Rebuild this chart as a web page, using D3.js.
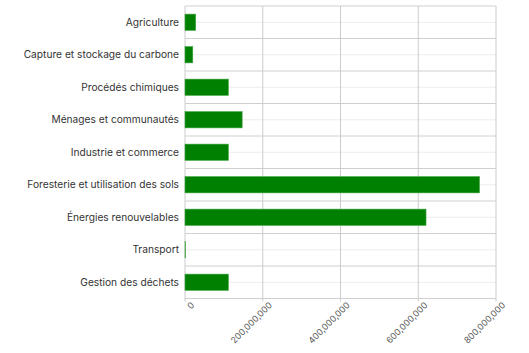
<!DOCTYPE html>
<html>
<head>
<meta charset="utf-8">
<script src="https://cdn.jsdelivr.net/npm/d3@7"></script>
<style>
body { margin: 0; background: #fff; }
text { font-family: Inter, "Noto Sans", sans-serif; }
</style>
</head>
<body>
<div id="chart"></div>
<script>
var categories = ["Agriculture", "Capture et stockage du carbone", "Procédés chimiques",
    "Ménages et communautés", "Industrie et commerce", "Foresterie et utilisation des sols",
    "Énergies renouvelables", "Transport", "Gestion des déchets"];
var values = [27500000, 20000000, 111500000, 147000000, 111500000, 757500000, 620000000, 1000000, 111500000];
var xTicks = [0, 200000000, 400000000, 600000000, 800000000];

function init(){
    var w = 529, h = 353;
    var left = 185, right = 496, top = 6, bottom = 298.5;

    var svg = d3.select("#chart").append("svg")
        .attr("width", w)
        .attr("height", h);

    var xScale = d3.scaleLinear()
        .domain([0, 800000000])
        .range([left, right]);

    var yScale = d3.scaleBand()
        .domain(categories)
        .range([top, bottom])
        .paddingInner(0.5)
        .paddingOuter(0.25);

    var band = yScale.step();

    // light lines at category centres
    svg.append("g").selectAll("line")
        .data(categories)
        .enter().append("line")
        .attr("x1", left).attr("x2", right)
        .attr("y1", function(d){ return yScale(d) + yScale.bandwidth() / 2; })
        .attr("y2", function(d){ return yScale(d) + yScale.bandwidth() / 2; })
        .attr("stroke", "#ececec");

    // band boundaries
    svg.append("g").selectAll("line")
        .data(d3.range(categories.length + 1))
        .enter().append("line")
        .attr("x1", left).attr("x2", right)
        .attr("y1", function(i){ return top + i * band; })
        .attr("y2", function(i){ return top + i * band; })
        .attr("stroke", "#d0d0d0");

    // vertical grid
    svg.append("g").selectAll("line")
        .data(xTicks)
        .enter().append("line")
        .attr("x1", function(d){ return xScale(d); })
        .attr("x2", function(d){ return xScale(d); })
        .attr("y1", top).attr("y2", bottom + 3)
        .attr("stroke", "#cccccc");

    svg.append("g").selectAll("rect")
        .data(values)
        .enter().append("rect")
        .attr("x", xScale(0))
        .attr("y", function(d, i){ return yScale(categories[i]); })
        .attr("width", function(d){ return xScale(d) - xScale(0); })
        .attr("height", yScale.bandwidth())
        .attr("fill", "#008000")
        .attr("stroke", "#3fa33f")
        .attr("stroke-width", 0.6);

    var yAxis = d3.axisLeft(yScale).tickSize(0).tickPadding(6);
    var gy = svg.append("g")
        .attr("transform", "translate(" + left + ",0)")
        .call(yAxis);
    gy.select(".domain").remove();
    gy.selectAll("text")
        .attr("font-size", 10.2)
        .attr("fill", "#333")
        .style("font-family", "Inter, sans-serif");

    var xAxis = d3.axisBottom(xScale)
        .tickValues(xTicks)
        .tickSize(0)
        .tickFormat(d3.format(","));
    var gx = svg.append("g")
        .attr("transform", "translate(0," + (bottom + 4) + ")")
        .call(xAxis);
    gx.select(".domain").remove();
    gx.selectAll("text")
        .attr("font-size", 8.8)
        .attr("fill", "#555")
        .style("font-family", "Inter, sans-serif")
        .attr("text-anchor", "end")
        .attr("dy", "0.7em")
        .attr("y", 0)
        .attr("transform", "translate(5,-1) rotate(-45)");
}

window.onload = init;
</script>
</body>
</html>
